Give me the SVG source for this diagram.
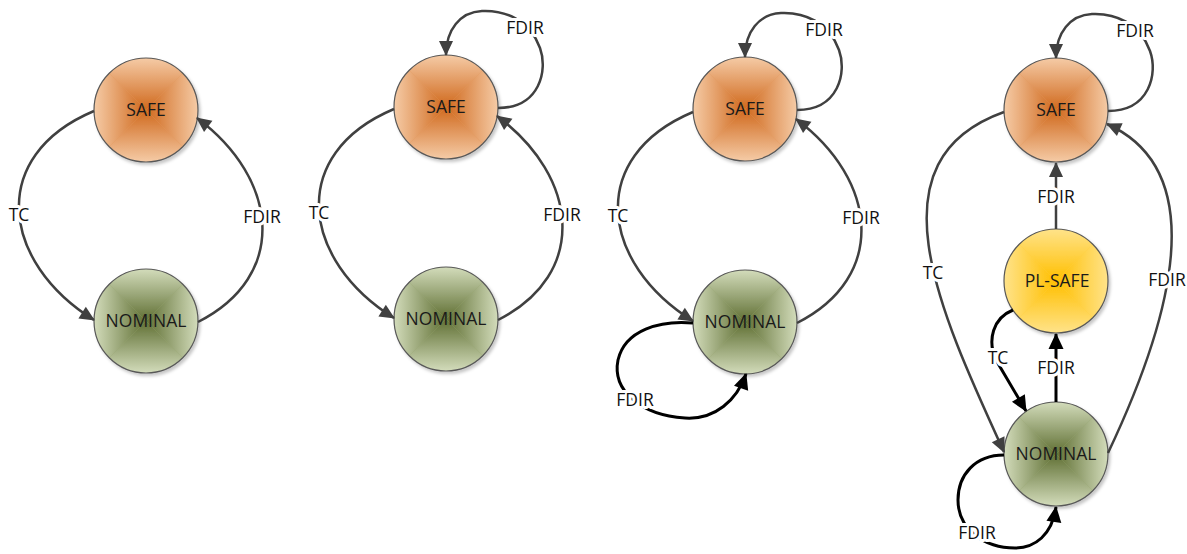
<svg xmlns="http://www.w3.org/2000/svg" width="1187" height="554" viewBox="0 0 1187 554">
<style>
.c{fill:none;stroke:#404040;stroke-width:2.5}
.k{fill:none;stroke:#000;stroke-width:3}
.lbl{font-family:"Open Sans","Liberation Sans",sans-serif;font-size:17.5px;fill:#111;text-anchor:middle;stroke:#fff;stroke-width:6;stroke-linejoin:round;paint-order:stroke}
.nt{font-family:"Open Sans","Liberation Sans",sans-serif;font-size:17.5px;fill:#1a1a1a;text-anchor:middle}
.ol{fill:none;stroke:#595959;stroke-width:1.2}
</style>
<defs>
<filter id="sh" x="-20%" y="-20%" width="150%" height="150%"><feDropShadow dx="2" dy="2.5" stdDeviation="1.5" flood-color="#000" flood-opacity="0.22"/></filter>
<clipPath id="cp"><circle r="52"/></clipPath>
<linearGradient id="gS" gradientUnits="userSpaceOnUse" x1="0" y1="0" x2="52" y2="0"><stop offset="0" stop-color="#d0691d"/><stop offset="1" stop-color="#f5cba6"/></linearGradient>
<linearGradient id="gN" gradientUnits="userSpaceOnUse" x1="0" y1="0" x2="52" y2="0"><stop offset="0" stop-color="#5f6f33"/><stop offset="1" stop-color="#d3dcbb"/></linearGradient>
<linearGradient id="gP" gradientUnits="userSpaceOnUse" x1="0" y1="0" x2="52" y2="0"><stop offset="0" stop-color="#ffbf00"/><stop offset="1" stop-color="#ffe38a"/></linearGradient>
<polygon id="triS" points="0,0 54,-54 54,54" fill="url(#gS)"/>
<polygon id="triN" points="0,0 54,-54 54,54" fill="url(#gN)"/>
<polygon id="triP" points="0,0 54,-54 54,54" fill="url(#gP)"/>
<g id="shS"><circle r="52" fill="#e39a5e"/><g clip-path="url(#cp)"><use href="#triS"/><use href="#triS" transform="rotate(90)"/><use href="#triS" transform="rotate(180)"/><use href="#triS" transform="rotate(270)"/></g><circle r="52" class="ol"/></g>
<g id="shN"><circle r="52" fill="#9aa872"/><g clip-path="url(#cp)"><use href="#triN"/><use href="#triN" transform="rotate(90)"/><use href="#triN" transform="rotate(180)"/><use href="#triN" transform="rotate(270)"/></g><circle r="52" class="ol"/></g>
<g id="shP"><circle r="52" fill="#ffd040"/><g clip-path="url(#cp)"><use href="#triP"/><use href="#triP" transform="rotate(90)"/><use href="#triP" transform="rotate(180)"/><use href="#triP" transform="rotate(270)"/></g><circle r="52" class="ol"/></g>
<marker id="ag" markerUnits="userSpaceOnUse" markerWidth="17" markerHeight="16" refX="14" refY="7.5" orient="auto" overflow="visible"><path d="M0,0.5 L15,7.5 L0,14.5 z" fill="#404040"/></marker>
<marker id="ab" markerUnits="userSpaceOnUse" markerWidth="17" markerHeight="17" refX="15" refY="8" orient="auto" overflow="visible"><path d="M0,0.5 L16,8 L0,15.5 z" fill="#000"/></marker>
</defs>

<g id="nodes">
<g id="safe1"><use href="#shS" x="146" y="110" filter="url(#sh)"/><text class="nt" x="146" y="116">SAFE</text></g>
<g id="nominal1"><use href="#shN" x="146" y="321" filter="url(#sh)"/><text class="nt" x="146" y="327">NOMINAL</text></g>
<g id="safe2"><use href="#shS" x="446" y="107" filter="url(#sh)"/><text class="nt" x="446" y="113">SAFE</text></g>
<g id="nominal2"><use href="#shN" x="446" y="319" filter="url(#sh)"/><text class="nt" x="446" y="325">NOMINAL</text></g>
<g id="safe3"><use href="#shS" x="745" y="109" filter="url(#sh)"/><text class="nt" x="745" y="115">SAFE</text></g>
<g id="nominal3"><use href="#shN" x="745" y="322" filter="url(#sh)"/><text class="nt" x="745" y="328">NOMINAL</text></g>
<g id="safe4"><use href="#shS" x="1056" y="110" filter="url(#sh)"/><text class="nt" x="1056" y="116">SAFE</text></g>
<g id="plsafe4"><use href="#shP" x="1056" y="281" filter="url(#sh)"/><text class="nt" x="1057" y="287">PL-SAFE</text></g>
<g id="nominal4"><use href="#shN" x="1056" y="454" filter="url(#sh)"/><text class="nt" x="1056" y="460">NOMINAL</text></g>
</g>

<g id="connectors">
<path class="c" marker-end="url(#ag)" d="M94,111 C-13,156 1,262 94,320"/>
<path class="c" marker-end="url(#ag)" d="M198,322 C289,276 279,179 197,118"/>
<path class="c" marker-end="url(#ag)" d="M394,109 C287,154 301,260 394,318"/>
<path class="c" marker-end="url(#ag)" d="M498,320 C589,274 579,177 497,116"/>
<path class="c" marker-end="url(#ag)" d="M498,108 C540,108 548,70 540,48 C530,20 505,10 482,11 C460,12 446,30 446,55"/>
<path class="c" marker-end="url(#ag)" d="M693,112 C586,157 600,263 693,321"/>
<path class="c" marker-end="url(#ag)" d="M797,323 C888,277 878,180 796,119"/>
<path class="c" marker-end="url(#ag)" d="M797,110 C839,110 847,72 839,50 C829,22 804,12 781,13 C759,14 745,32 745,57"/>
<path class="k" marker-end="url(#ab)" d="M693,323 C660,320 625,330 618,360 C612,390 640,415 685,418 C715,420 737,400 746,374"/>
<path class="c" marker-end="url(#ag)" d="M1108,111 C1150,111 1158,73 1150,51 C1140,23 1115,13 1092,14 C1070,15 1056,33 1056,58"/>
<path class="c" marker-end="url(#ag)" d="M1004,112 C870,160 937,306 1004,452"/>
<path class="c" marker-end="url(#ag)" d="M1108,453 C1172,318 1212,171 1107,124"/>
<path class="c" marker-end="url(#ag)" d="M1056,229 L1056,163"/>
<path class="k" marker-end="url(#ab)" d="M1056,402 L1056,334"/>
<path class="k" marker-end="url(#ab)" d="M1013,310 C993,318 987,340 996,360 L1026,411"/>
<path class="k" marker-end="url(#ab)" d="M1004,455 C975,455 958,475 958,500 C958,530 985,548 1015,548 C1035,548 1052,535 1056,507"/>
<text class="lbl" x="19" y="221">TC</text>
<text class="lbl" x="262" y="223">FDIR</text>
<text class="lbl" x="319" y="219">TC</text>
<text class="lbl" x="562" y="221">FDIR</text>
<text class="lbl" x="525" y="34">FDIR</text>
<text class="lbl" x="618" y="222">TC</text>
<text class="lbl" x="861" y="224">FDIR</text>
<text class="lbl" x="824" y="36">FDIR</text>
<text class="lbl" x="635" y="406">FDIR</text>
<text class="lbl" x="1135" y="37">FDIR</text>
<text class="lbl" x="933" y="279">TC</text>
<text class="lbl" x="1167" y="286">FDIR</text>
<text class="lbl" x="1056" y="203">FDIR</text>
<text class="lbl" x="1056" y="374">FDIR</text>
<text class="lbl" x="998" y="364">TC</text>
<text class="lbl" x="977" y="539">FDIR</text>
</g>
</svg>
